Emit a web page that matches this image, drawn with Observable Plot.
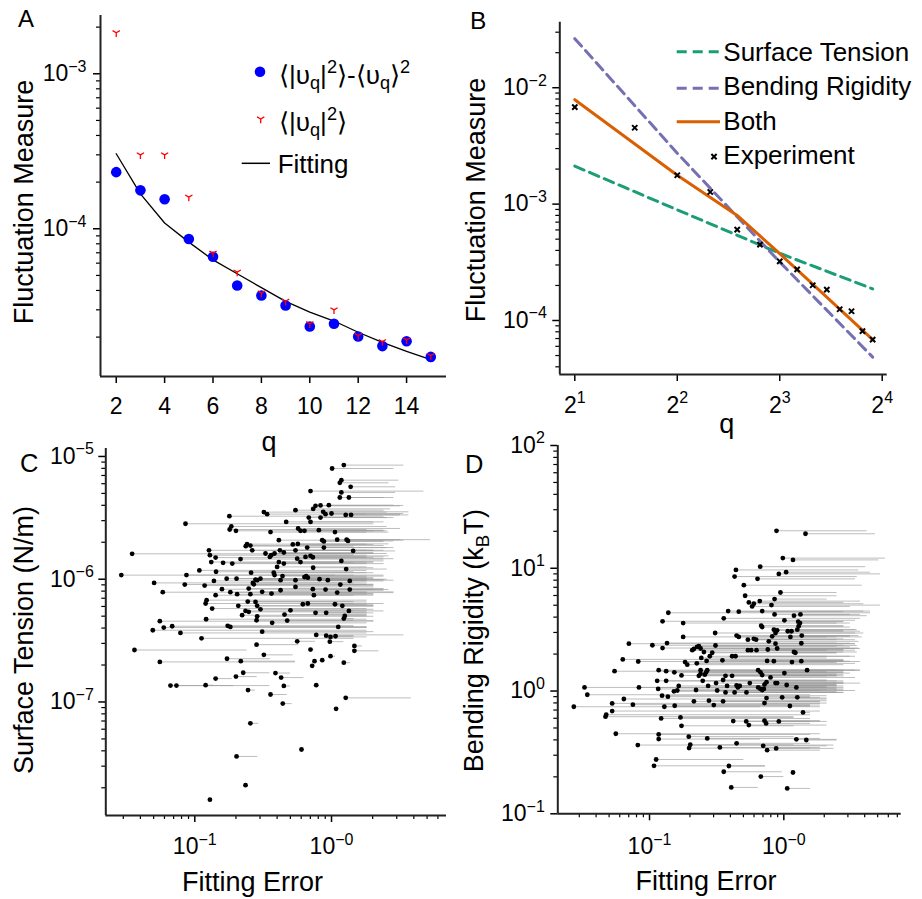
<!DOCTYPE html>
<html><head><meta charset="utf-8">
<script src="https://cdn.jsdelivr.net/npm/d3@7"></script>
<script src="https://cdn.jsdelivr.net/npm/@observablehq/plot@0.6"></script>
<style>
body{margin:0;background:#fff;}
#wrap{position:relative;width:922px;height:899px;background:#fff;overflow:hidden;font-family:"Liberation Sans",Arial,sans-serif;}
.panel{position:absolute;}
.panel svg text{font-size:23px !important;}
.panel svg text tspan.sup{font-size:16px !important;}
</style></head>
<body><div id="wrap"></div>
<script>
// ---------- Panel A data ----------
const qA = [2,3,4,5,6,7,8,9,10,11,12,13,14,15];
const varianceA = [2.32e-4,1.77e-4,1.55e-4,8.6e-5,6.6e-5,4.31e-5,3.71e-5,3.2e-5,2.34e-5,2.44e-5,2.02e-5,1.75e-5,1.88e-5,1.49e-5];
const meanSquareA = [1.84e-3,3.0e-4,3.0e-4,1.6e-4,6.96e-5,5.25e-5,3.85e-5,3.41e-5,2.44e-5,3.0e-5,2.05e-5,1.87e-5,1.92e-5,1.52e-5];
const fittingA = [3.05e-4,1.68e-4,1.09e-4,8.2e-5,6.3e-5,5.13e-5,4.17e-5,3.4e-5,2.9e-5,2.54e-5,2.15e-5,1.85e-5,1.62e-5,1.43e-5];
const xDomA = [1.35, 15.65];
const yDomA = [1.114e-5, 2.377e-3];
const xTicksA = [2,4,6,8,10,12,14];
const yMajorA = [1e-4, 1e-3];
const yMajorLabelsA = ["10^−4", "10^−3"];
const yMinorA = [2e-5,3e-5,4e-5,5e-5,6e-5,7e-5,8e-5,9e-5,2e-4,3e-4,4e-4,5e-4,6e-4,7e-4,8e-4,9e-4,2e-3];

// ---------- Panel B data ----------
const qB = [2,3,4,5,6,7,8,9,10,11,12,13,14,15];
const experimentB = [6.81e-3,4.53e-3,1.77e-3,1.27e-3,6.03e-4,4.48e-4,3.22e-4,2.75e-4,2.01e-4,1.84e-4,1.25e-4,1.20e-4,8.1e-5,6.84e-5];
const qSurfaceB = [2,4,8,15];
const surfaceB = [2.12e-3,8.93e-4,3.78e-4,1.87e-4];
const qBendingB = [2,4,8,15];
const bendingB = [2.64e-2,2.74e-3,3.18e-4,4.85e-5];
const qBothB = [2,4,6,8,15];
const bothB = [7.89e-3,1.77e-3,8.0e-4,3.75e-4,6.84e-5];
const xDomB = [1.807, 16.55];
const yDomB = [3.436e-5, 0.03656];
const xTicksB = [2,4,8,16];
const xTickLabelsB = ["2^1","2^2","2^3","2^4"];
const yMajorB = [1e-4,1e-3,1e-2];
const yMajorLabelsB = ["10^−4","10^−3","10^−2"];
const yMinorB = [4e-5,5e-5,6e-5,7e-5,8e-5,9e-5,2e-4,3e-4,4e-4,5e-4,6e-4,7e-4,8e-4,9e-4,2e-3,3e-3,4e-3,5e-3,6e-3,7e-3,8e-3,9e-3,2e-2,3e-2];

// ---------- Panel C data (fitting error, surface tension N/m, error-bar end) ----------
const errC = [1.23,1.01,1.18,1.15,1.38,0.702,1.18,1.34,1.15,0.764,0.831,0.956,0.545,0.734,0.320,0.338,0.869,0.904,0.179,0.682,
0.831,1.0,1.27,1.39,0.702,0.466,0.0855,0.185,0.180,0.2,0.570,0.593,0.634,0.808,1.06,0.358,0.412,1.29,1.32,0.855,
0.879,1.10,0.521,0.567,0.241,0.255,0.236,0.263,0.664,0.879,1.44,0.545,0.127,0.129,0.142,0.132,0.161,0.188,0.216,0.0348,
0.329,0.362,0.383,0.419,0.448,0.354,0.412,0.448,0.561,0.593,0.645,0.702,0.730,1.18,0.400,0.734,1.28,0.108,0.143,0.258,
0.378,0.383,0.438,0.029,0.0869,0.0845,0.171,0.202,0.278,0.286,0.266,0.270,0.302,0.653,0.671,0.634,0.817,0.940,1.36,1.16,
0.545,0.545,0.0504,0.0583,0.118,0.138,0.158,0.182,0.204,0.248,0.255,0.311,0.364,0.424,0.424,0.730,0.904,1.10,1.36,0.142,
0.743,0.122,0.120,0.134,0.208,0.278,0.286,0.244,0.617,0.671,1.06,1.20,0.222,0.235,0.248,0.302,0.501,0.764,0.914,1.34,
1.25,1.23,0.286,0.453,0.121,0.283,0.368,0.474,0.0555,0.0593,0.0683,0.0493,0.0785,0.174,0.182,0.311,1.12,0.112,0.773,0.914,
0.983,1.07,0.561,0.972,0.283,1.47,1.47,0.0362,0.702,0.320,0.855,0.983,0.0555,0.172,0.217,0.751,1.23,0.722,0.226,0.389,
0.428,0.142,0.2,0.0664,0.0734,0.120,0.448,0.773,0.245,0.358,1.27,0.440,1.08,0.255,0.603,0.202,0.235,0.129];
const tensionC = [8.5e-6,7.98e-6,6.41e-6,6.10e-6,5.66e-6,5.22e-6,5.09e-6,4.63e-6,4.63e-6,3.96e-6,3.99e-6,4.01e-6,3.65e-6,3.74e-6,3.52e-6,3.39e-6,3.54e-6,3.39e-6,3.26e-6,3.18e-6,
3.18e-6,3.43e-6,3.34e-6,3.34e-6,2.93e-6,2.93e-6,2.83e-6,2.69e-6,2.54e-6,2.48e-6,2.59e-6,2.48e-6,2.48e-6,2.51e-6,2.42e-6,2.42e-6,2.08e-6,2.10e-6,2.05e-6,2.08e-6,
2.03e-6,2.10e-6,1.92e-6,1.94e-6,1.93e-6,1.88e-6,1.86e-6,1.72e-6,1.81e-6,1.81e-6,1.70e-6,1.72e-6,1.72e-6,1.57e-6,1.50e-6,1.38e-6,1.36e-6,1.34e-6,1.46e-6,1.61e-6,
1.62e-6,1.57e-6,1.62e-6,1.72e-6,1.65e-6,1.52e-6,1.38e-6,1.34e-6,1.47e-6,1.38e-6,1.52e-6,1.55e-6,1.51e-6,1.41e-6,1.26e-6,1.24e-6,1.21e-6,1.18e-6,1.15e-6,1.13e-6,
1.13e-6,1.08e-6,1.06e-6,1.08e-6,1.08e-6,9.05e-7,1.01e-6,1.01e-6,9.94e-7,9.82e-7,9.33e-7,9.10e-7,1.01e-6,1.06e-6,1.03e-6,1.04e-6,1.0e-6,9.82e-7,9.69e-7,9.05e-7,
9.82e-7,8.66e-7,9.33e-7,7.84e-7,8.88e-7,9.69e-7,8.29e-7,7.84e-7,7.55e-7,8.39e-7,7.55e-7,7.89e-7,7.64e-7,8.13e-7,9.82e-7,8.29e-7,8.24e-7,7.78e-7,8.24e-7,7.41e-7,
7.41e-7,6.75e-7,6.34e-7,5.77e-7,6.07e-7,6.53e-7,6.07e-7,6.58e-7,6.25e-7,6.34e-7,6.25e-7,6.07e-7,5.09e-7,5.52e-7,5.42e-7,5.69e-7,5.58e-7,5.32e-7,5.32e-7,5.52e-7,
5.02e-7,4.78e-7,4.99e-7,5.15e-7,4.72e-7,4.63e-7,4.41e-7,4.60e-7,4.55e-7,4.04e-7,4.14e-7,3.84e-7,3.65e-7,4.17e-7,4.09e-7,3.74e-7,4.09e-7,3.30e-7,3.52e-7,3.47e-7,
3.39e-7,3.43e-7,3.12e-7,3.10e-7,2.93e-7,2.86e-7,2.61e-7,2.65e-7,2.67e-7,2.42e-7,2.19e-7,2.36e-7,2.12e-7,2.25e-7,2.15e-7,2.15e-7,2.09e-7,1.97e-7,1.73e-7,1.72e-7,
1.58e-7,1.55e-7,1.61e-7,1.36e-7,1.36e-7,1.37e-7,1.35e-7,1.37e-7,1.25e-7,1.15e-7,1.08e-7,9.7e-8,8.8e-8,6.7e-8,4.1e-8,3.6e-8,2.1e-8,1.6e-8];
const errHighC = [3.38,2.86,3.11,2.63,2.94,4.74,2.94,2.86,2.42,3.20,3.38,2.86,2.42,2.70,2.55,1.82,3.68,3.20,2.42,2.86,
2.55,3.38,3.68,3.20,2.04,2.42,2.04,2.55,1.82,2.42,3.20,2.55,2.04,2.42,2.63,1.82,2.42,5.30,2.86,3.38,
2.42,3.20,2.04,2.63,1.82,2.42,1.46,2.04,2.55,2.86,2.94,2.04,1.82,1.46,2.04,1.82,1.46,1.82,2.42,1.46,
2.04,1.82,2.55,2.42,2.04,1.82,2.04,2.42,2.86,2.04,2.42,2.63,1.82,2.42,1.82,2.04,2.55,1.82,1.46,2.04,
1.82,2.42,1.82,1.07,1.46,1.82,1.82,2.04,2.42,1.46,1.82,2.04,1.82,2.42,2.04,1.82,2.55,2.86,2.42,2.04,
1.82,2.04,1.46,1.82,2.04,1.82,1.46,1.82,2.04,2.42,1.82,2.86,2.04,2.42,1.82,2.42,2.04,2.86,2.63,1.46,
2.04,1.82,1.46,1.82,2.04,1.82,2.04,1.46,2.04,2.42,1.82,2.04,1.82,1.46,1.82,2.04,1.82,2.04,1.82,2.42,
1.82,1.46,2.04,1.82,1.82,1.46,1.82,2.04,2.04,1.82,1.46,1.82,1.82,1.46,1.82,2.04,1.82,1.46,3.38,1.46,
1.82,1.46,0.764,1.23,0.577,1.68,2.22,0.241,0.743,0.524,0.879,1.07,0.545,0.358,0.545,0.785,1.38,0.743,0.354,0.501,
0.628,0.188,0.286,0.354,0.193,0.138,0.501,0.808,0.278,0.474,3.83,0.515,1.11,0.294,0.62,0.289,0.241,0.132];
const xDomC = [0.02234, 6.934];
const yDomC = [1.189e-8, 1.161e-5];
const xMajorC = [0.1, 1];
const xMajorLabelsC = ["10^−1", "10^−0"];
const xMinorC = [0.03,0.04,0.05,0.06,0.07,0.08,0.09,0.2,0.3,0.4,0.5,0.6,0.7,0.8,0.9,2,3,4,5,6];
const yMajorC = [1e-7,1e-6,1e-5];
const yMajorLabelsC = ["10^−7","10^−6","10^−5"];
const yMinorC = [2e-8,3e-8,4e-8,5e-8,6e-8,7e-8,8e-8,9e-8,2e-7,3e-7,4e-7,5e-7,6e-7,7e-7,8e-7,9e-7,2e-6,3e-6,4e-6,5e-6,6e-6,7e-6,8e-6,9e-6];

// ---------- Panel D data (fitting error, bending rigidity kBT, error-bar end) ----------
const errD = [0.882,1.45,0.983,1.17,0.440,0.667,0.430,0.637,0.918,1.04,0.504,0.515,0.944,0.853,0.549,0.598,0.581,0.662,0.809,0.138,
0.385,0.462,0.690,0.853,1.19,1.33,0.125,0.178,0.357,0.678,0.690,1.01,1.28,0.308,0.445,0.462,0.540,0.598,0.622,0.843,
0.892,0.867,0.819,1.07,1.14,1.26,1.12,1.32,1.36,1.29,0.178,0.0702,0.105,0.125,0.135,0.310,0.214,0.226,0.233,0.240,
0.254,0.208,0.773,0.760,0.867,0.892,1.35,1.19,1.22,0.540,0.571,0.626,0.0632,0.0824,0.184,0.191,0.225,0.243,0.266,0.281,
0.293,0.349,0.412,0.437,0.751,0.843,1.15,1.35,0.0549,0.117,0.133,0.153,0.173,0.240,0.269,0.233,0.240,0.258,0.264,0.368,
0.412,0.644,0.670,0.690,0.796,0.743,0.718,0.867,1.01,1.49,0.114,0.133,0.249,0.313,0.353,0.378,0.445,0.470,0.0328,0.0834,
0.116,0.165,0.222,0.273,0.319,0.368,0.430,0.455,0.527,0.558,0.644,0.670,0.690,0.710,0.892,1.05,1.24,0.0344,0.124,0.137,
0.152,0.161,0.0644,0.214,0.277,0.353,0.743,0.972,1.26,0.0273,0.0527,0.0752,0.129,0.154,0.301,0.718,1.11,0.0476,0.047,0.0527,
0.122,0.170,1.39,0.173,0.420,0.525,0.549,0.718,0.738,0.918,0.0561,0.117,0.117,0.196,0.269,1.24,1.47,0.0818,0.201,0.197,
0.334,0.445,0.702,0.751,0.877,0.112,0.108,0.390,0.357,1.17,0.674,0.406,1.06];
const rigidityD = [20.2,19.1,12.1,11.7,9.69,10.3,8.56,8.20,9.0,9.29,7.28,5.97,6.35,5.61,5.27,5.14,4.89,5.40,5.01,4.34,
4.48,4.43,4.48,4.21,4.11,4.21,3.70,3.58,3.91,3.41,3.32,3.77,3.67,2.97,2.83,2.76,2.62,2.66,2.62,3.16,
3.12,2.97,2.79,3.07,3.07,3.16,2.76,3.58,2.83,3.37,2.76,2.43,2.36,2.24,2.46,2.35,2.20,2.29,2.32,2.22,
2.08,2.15,2.54,2.18,2.43,2.22,2.45,2.08,2.05,2.15,2.15,2.15,1.81,1.74,1.72,1.64,1.68,1.86,1.76,1.92,
2.05,1.78,1.92,1.92,1.76,1.75,1.72,1.75,1.45,1.48,1.45,1.42,1.34,1.48,1.48,1.33,1.38,1.36,1.42,1.33,
1.33,1.48,1.42,1.35,1.29,1.18,1.13,1.16,1.40,1.48,1.21,1.21,1.21,1.16,1.23,1.10,1.11,1.10,1.07,1.07,
1.04,1.10,1.02,1.10,1.01,0.975,0.975,1.07,0.975,1.16,1.07,1.04,1.02,1.04,1.16,1.12,1.07,0.933,0.916,0.899,
0.994,1.01,0.861,0.824,0.834,0.824,0.877,0.888,0.888,0.745,0.793,0.774,0.745,0.759,0.769,0.798,0.755,0.641,0.618,0.687,
0.598,0.610,0.670,0.521,0.569,0.566,0.528,0.573,0.545,0.566,0.449,0.443,0.406,0.425,0.411,0.404,0.399,0.363,0.365,0.343,
0.347,0.375,0.358,0.330,0.341,0.277,0.246,0.245,0.220,0.217,0.201,0.164,0.161];
const errHighD = [4.17,4.81,5.71,5.10,3.62,4.06,3.52,3.42,5.24,4.42,3.83,2.49,2.49,2.10,2.80,3.94,3.13,3.72,5.24,4.42,
3.94,2.80,4.42,3.72,4.17,3.13,2.80,2.49,3.72,2.80,3.13,3.42,2.80,3.42,3.13,3.83,2.49,2.80,3.42,3.52,
2.80,3.94,3.13,3.72,2.80,3.42,2.49,3.13,3.62,2.80,2.10,3.42,2.80,3.62,2.49,3.52,2.80,3.13,2.49,3.42,
2.80,2.10,3.62,2.80,3.42,3.72,3.13,3.52,2.49,2.80,3.42,2.10,2.80,3.72,2.49,2.80,3.42,2.10,2.80,3.13,
2.49,2.80,3.42,2.10,2.80,3.13,2.49,2.80,2.80,2.49,2.10,2.80,2.49,3.42,2.80,2.10,2.49,2.80,2.10,2.80,
2.49,3.72,2.80,2.49,3.42,2.80,2.49,2.80,3.13,3.72,2.49,2.10,2.80,2.49,2.10,2.80,2.49,2.10,1.19,2.80,
2.49,2.10,2.80,2.49,3.42,2.80,2.49,2.10,2.80,3.72,2.49,2.80,2.10,2.49,2.80,2.49,2.10,1.58,2.10,1.58,
2.49,1.87,2.10,1.87,2.10,1.87,2.10,1.87,1.58,0.670,1.87,1.58,1.87,1.58,1.87,2.10,1.58,1.58,1.19,1.87,
1.58,1.19,1.58,1.19,1.87,1.58,2.10,1.87,1.58,2.10,1.87,1.58,0.670,1.19,1.87,2.49,2.49,2.36,1.19,1.58,
1.87,1.58,2.10,1.87,2.36,0.504,0.731,0.731,0.972,1.19,1.0,0.644,1.58];
const xDomD = [0.02075, 7.482];
const yDomD = [0.1, 100];
const xMajorD = [0.1, 1];
const xMajorLabelsD = ["10^−1", "10^−0"];
const xMinorD = [0.03,0.04,0.05,0.06,0.07,0.08,0.09,0.2,0.3,0.4,0.5,0.6,0.7,0.8,0.9,2,3,4,5,6,7];
const yMajorD = [0.1,1,10,100];
const yMajorLabelsD = ["10^−1","10^0","10^1","10^2"];
const yMinorD = [0.2,0.3,0.4,0.5,0.6,0.7,0.8,0.9,2,3,4,5,6,7,8,9,20,30,40,50,60,70,80,90];

// ---------- helpers ----------
const FONT = "Liberation Sans, Arial, sans-serif";
const wrap = document.getElementById("wrap");
const labeler = (vals, labels) => { const m = new Map(vals.map((v, i) => [v, labels[i]])); return d => m.get(d) ?? ""; };
const blank = () => "";
const triDown = { draw(context, size) { const r = Math.sqrt(size / Math.PI);
  context.moveTo(0, 0); context.lineTo(0, r);
  context.moveTo(0, 0); context.lineTo(-r * 0.866, -r * 0.5);
  context.moveTo(0, 0); context.lineTo(r * 0.866, -r * 0.5); } };

function supify(svg) {
  d3.select(svg).selectAll("text").each(function () {
    const s = this.textContent; const i = s.indexOf("^"); if (i < 0) return;
    const t = d3.select(this); t.text(null);
    t.append("tspan").text(s.slice(0, i));
    t.append("tspan").attr("class", "sup").attr("dy", "-9.5px").text(s.slice(i + 1));
  });
  return svg;
}
function place(svg, left, top, w, h) {
  const d = document.createElement("div"); d.className = "panel";
  d.style.left = left + "px"; d.style.top = top + "px"; d.style.width = w + "px"; d.style.height = h + "px";
  d.appendChild(supify(svg)); wrap.appendChild(d);
}
const baseStyle = {fontFamily: FONT, background: "transparent", overflow: "visible", color: "black"};
const axisLines = (xd, yd) => [
  Plot.ruleX([xd[0]], {stroke: "#222", strokeWidth: 2}),
  Plot.ruleY([yd[0]], {stroke: "#222", strokeWidth: 2})
];

// ---------- Panel A ----------
const rowsVar = qA.map((q, i) => ({q, v: varianceA[i]}));
const rowsMsq = qA.map((q, i) => ({q, v: meanSquareA[i]}));
const rowsFit = qA.map((q, i) => ({q, v: fittingA[i]}));
place(Plot.plot({
  width: 460, height: 440, marginLeft: 100, marginRight: 14, marginTop: 15, marginBottom: 64,
  style: baseStyle,
  x: {domain: xDomA, label: null},
  y: {type: "log", domain: yDomA, label: null},
  marks: [
    Plot.axisX({ticks: xTicksA, tickSize: 7, tickPadding: 14.5, strokeWidth: 1.5, label: null}),
    Plot.axisY({ticks: yMajorA, tickSize: 7, tickPadding: 7, strokeWidth: 1.5, tickFormat: labeler(yMajorA, yMajorLabelsA), label: null}),
    Plot.axisY({ticks: yMinorA, tickSize: 4, strokeWidth: 1.2, tickFormat: blank, label: null}),
    ...axisLines(xDomA, yDomA),
    Plot.line(rowsFit, {x: "q", y: "v", stroke: "black", strokeWidth: 1.3}),
    Plot.dot(rowsVar, {x: "q", y: "v", r: 5.3, fill: "#0000ff"}),
    Plot.dot(rowsMsq, {x: "q", y: "v", r: 4.2, symbol: triDown, stroke: "#ff0000", fill: "none", strokeWidth: 1.3})
  ]
}), 0, 0, 460, 440);

// ---------- Panel B ----------
const rowsExp = qB.map((q, i) => ({q, v: experimentB[i]}));
const rowsSurf = qSurfaceB.map((q, i) => ({q, v: surfaceB[i]}));
const rowsBend = qBendingB.map((q, i) => ({q, v: bendingB[i]}));
const rowsBoth = qBothB.map((q, i) => ({q, v: bothB[i]}));
place(Plot.plot({
  width: 462, height: 440, marginLeft: 99.3, marginRight: 35.3, marginTop: 21.7, marginBottom: 66,
  style: baseStyle,
  x: {type: "log", base: 2, domain: xDomB, label: null},
  y: {type: "log", domain: yDomB, label: null},
  marks: [
    Plot.axisX({ticks: xTicksB, tickSize: 7, tickPadding: 15, strokeWidth: 1.5, tickFormat: labeler(xTicksB, xTickLabelsB), label: null}),
    Plot.axisY({ticks: yMajorB, tickSize: 7, tickPadding: 6, strokeWidth: 1.5, tickFormat: labeler(yMajorB, yMajorLabelsB), label: null}),
    Plot.axisY({ticks: yMinorB, tickSize: 4, strokeWidth: 1.2, tickFormat: blank, label: null}),
    ...axisLines(xDomB, yDomB),
    Plot.line(rowsSurf, {x: "q", y: "v", stroke: "#1b9e77", strokeWidth: 3, strokeDasharray: "10,6"}),
    Plot.line(rowsBend, {x: "q", y: "v", stroke: "#7570b3", strokeWidth: 3, strokeDasharray: "10,6"}),
    Plot.line(rowsBoth, {x: "q", y: "v", stroke: "#d95f02", strokeWidth: 3}),
    Plot.dot(rowsExp, {x: "q", y: "v", r: 2.5, symbol: "times", stroke: "black", strokeWidth: 2})
  ]
}), 460, 0, 462, 440);

// ---------- Panel C ----------
const rowsC = errC.map((e, i) => ({e, t: tensionC[i], hi: errHighC[i]}));
place(Plot.plot({
  width: 460, height: 459, marginLeft: 105.3, marginRight: 14, marginTop: 8, marginBottom: 84,
  style: baseStyle,
  x: {type: "log", domain: xDomC, label: null},
  y: {type: "log", domain: yDomC, label: null},
  marks: [
    Plot.axisX({ticks: xMajorC, tickSize: 7, tickPadding: 15.5, strokeWidth: 1.5, tickFormat: labeler(xMajorC, xMajorLabelsC), label: null}),
    Plot.axisX({ticks: xMinorC, tickSize: 4, strokeWidth: 1.2, tickFormat: blank, label: null}),
    Plot.axisY({ticks: yMajorC, tickSize: 7, tickPadding: 5, strokeWidth: 1.5, tickFormat: labeler(yMajorC, yMajorLabelsC), label: null}),
    Plot.axisY({ticks: yMinorC, tickSize: 4, strokeWidth: 1.2, tickFormat: blank, label: null}),
    ...axisLines(xDomC, yDomC),
    Plot.ruleY(rowsC, {y: "t", x1: "e", x2: "hi", stroke: "#999", strokeOpacity: 0.65, strokeWidth: 1}),
    Plot.dot(rowsC, {x: "e", y: "t", r: 2.4, fill: "black"})
  ]
}), 0, 440, 460, 459);

// ---------- Panel D ----------
const rowsD = errD.map((e, i) => ({e, k: rigidityD[i], hi: errHighD[i]}));
place(Plot.plot({
  width: 462, height: 459, marginLeft: 97.3, marginRight: 21.3, marginTop: 5, marginBottom: 85.7,
  style: baseStyle,
  x: {type: "log", domain: xDomD, label: null},
  y: {type: "log", domain: yDomD, label: null},
  marks: [
    Plot.axisX({ticks: xMajorD, tickSize: 7, tickPadding: 17, strokeWidth: 1.5, tickFormat: labeler(xMajorD, xMajorLabelsD), label: null}),
    Plot.axisX({ticks: xMinorD, tickSize: 4, strokeWidth: 1.2, tickFormat: blank, label: null}),
    Plot.axisY({ticks: yMajorD, tickSize: 7, tickPadding: 6, strokeWidth: 1.5, tickFormat: labeler(yMajorD, yMajorLabelsD), label: null}),
    Plot.axisY({ticks: yMinorD, tickSize: 4, strokeWidth: 1.2, tickFormat: blank, label: null}),
    ...axisLines(xDomD, yDomD),
    Plot.ruleY(rowsD, {y: "k", x1: "e", x2: "hi", stroke: "#999", strokeOpacity: 0.65, strokeWidth: 1}),
    Plot.dot(rowsD, {x: "e", y: "k", r: 2.4, fill: "black"})
  ]
}), 460, 440, 462, 459);

// ---------- Overlay: panel letters, axis titles, legends ----------
const ov = d3.create("svg").attr("width", 922).attr("height", 899)
  .style("position", "absolute").style("left", "0px").style("top", "0px")
  .attr("font-family", FONT).attr("fill", "black");

function rich(parent, parts, size, attrs) {
  const t = parent.append("text").attr("font-size", size);
  for (const [k, v] of Object.entries(attrs)) t.attr(k, v);
  let cur = 0;
  for (const [s, kind] of parts) {
    const target = kind === "sub" ? size * 0.2 : kind === "sup" ? -size * 0.42 : 0;
    const ts = t.append("tspan").text(s).attr("dy", target - cur);
    if (kind) ts.attr("font-size", size * 0.7);
    cur = target;
  }
  return t;
}
const txt = (s, size, attrs) => rich(ov, [[s]], size, attrs);

// panel letters
txt("A", 24, {x: 18, y: 27.3});
txt("B", 24.5, {x: 470, y: 29});
txt("C", 25.5, {x: 20, y: 472});
txt("D", 25.5, {x: 465, y: 473});

// axis titles
txt("Fluctuation Measure", 27, {transform: "translate(33.3,202) rotate(-90)", "text-anchor": "middle"});
txt("Fluctuation Measure", 27, {transform: "translate(485,200) rotate(-90)", "text-anchor": "middle"});
txt("Surface Tension (N/m)", 27, {transform: "translate(33.3,640) rotate(-90)", "text-anchor": "middle"});
rich(ov, [["Bending Rigidity (k"], ["B", "sub"], ["T)"]], 27, {transform: "translate(483.3,640.7) rotate(-90)", "text-anchor": "middle"});
txt("q", 27, {x: 269, y: 451, "text-anchor": "middle"});
txt("q", 27, {x: 726.7, y: 433, "text-anchor": "middle"});
txt("Fitting Error", 27, {x: 252.5, y: 890.7, "text-anchor": "middle"});
txt("Fitting Error", 27, {x: 706, y: 890, "text-anchor": "middle"});

// legend A
ov.append("circle").attr("cx", 260).attr("cy", 71.7).attr("r", 5.3).attr("fill", "#0000ff");
{ const r = 4.2, cx = 260.7, cy = 119;
  ov.append("path").attr("d", `M${cx},${cy}L${cx},${cy + r}M${cx},${cy}L${cx - r * 0.866},${cy - r * 0.5}M${cx},${cy}L${cx + r * 0.866},${cy - r * 0.5}`)
    .attr("stroke", "#ff0000").attr("fill", "none").attr("stroke-width", 1.3); }
ov.append("line").attr("x1", 241.7).attr("x2", 270).attr("y1", 163.3).attr("y2", 163.3).attr("stroke", "black").attr("stroke-width", 1.5);
rich(ov, [["⟨|υ"], ["q", "sub"], ["|"], ["2", "sup"], ["⟩-⟨υ"], ["q", "sub"], ["⟩"], ["2", "sup"]], 26, {x: 279, y: 84});
rich(ov, [["⟨|υ"], ["q", "sub"], ["|"], ["2", "sup"], ["⟩"]], 26, {x: 279, y: 131});
txt("Fitting", 26, {x: 277.7, y: 173.3});

// legend B
const legB = [
  {y: 51.7, color: "#1b9e77", dash: "10,6", label: "Surface Tension", base: 60.7},
  {y: 88.3, color: "#7570b3", dash: "10,6", label: "Bending Rigidity", base: 95},
  {y: 121.7, color: "#d95f02", dash: null, label: "Both", base: 129.5}
];
for (const l of legB) {
  const ln = ov.append("line").attr("x1", 676.7).attr("x2", 720).attr("y1", l.y).attr("y2", l.y)
    .attr("stroke", l.color).attr("stroke-width", 3);
  if (l.dash) ln.attr("stroke-dasharray", l.dash);
  txt(l.label, 26, {x: 723.3, y: l.base});
}
ov.append("path").attr("d", d3.symbol(d3.symbolTimes, 2.5 * 2.5 * Math.PI)()).attr("transform", "translate(714,156.7)")
  .attr("stroke", "black").attr("stroke-width", 2).attr("fill", "none");
txt("Experiment", 26, {x: 723.3, y: 164});

wrap.appendChild(ov.node());
</script>
</body></html>
